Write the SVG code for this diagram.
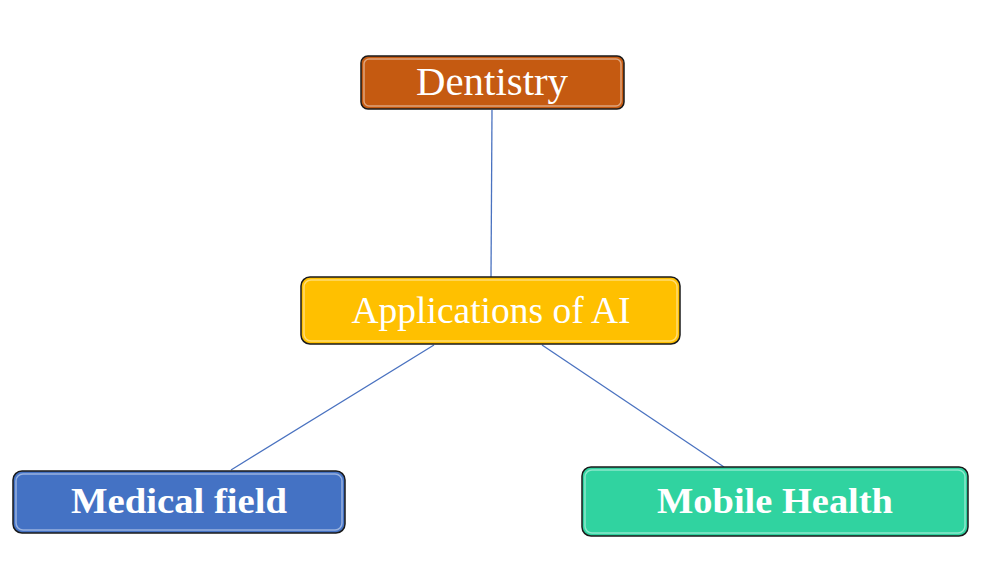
<svg xmlns="http://www.w3.org/2000/svg" width="986" height="568" viewBox="0 0 986 568">
<style>
.box{stroke:#1a1a1a;stroke-width:1.5}
.hl{fill:none;stroke:#ffffff;stroke-opacity:0.45;stroke-width:1.5}
.t{font-family:"Liberation Serif","Times New Roman",serif;fill:#ffffff;text-anchor:middle}
.b{font-weight:bold}
.conn{stroke:#4a72c0;stroke-width:1.3;fill:none}
</style>
<rect width="986" height="568" fill="#ffffff"/>
<g id="connectors">
<line class="conn" x1="492" y1="110" x2="491" y2="277"/>
<line class="conn" x1="434" y1="345" x2="231" y2="470"/>
<line class="conn" x1="542" y1="345" x2="724" y2="467"/>
</g>
<g id="dentistry">
<rect class="box" x="361" y="56" width="263" height="53" rx="7" fill="#c55a11"/>
<rect class="hl" x="364" y="59" width="257" height="47" rx="5"/>
<text class="t" x="492" y="95" font-size="40" textLength="152" lengthAdjust="spacingAndGlyphs">Dentistry</text>
</g>
<g id="applications">
<rect class="box" x="301" y="277" width="379" height="67" rx="9" fill="#ffc000"/>
<rect class="hl" x="304" y="280" width="373" height="61" rx="7"/>
<text class="t" x="491" y="323" font-size="38" textLength="279" lengthAdjust="spacingAndGlyphs">Applications of AI</text>
</g>
<g id="medical">
<rect class="box" x="13" y="471" width="332" height="62" rx="9" fill="#4472c4"/>
<rect class="hl" x="16" y="474" width="326" height="56" rx="7"/>
<text class="t b" x="179" y="513" font-size="36" textLength="216" lengthAdjust="spacingAndGlyphs">Medical field</text>
</g>
<g id="mobile">
<rect class="box" x="582" y="467" width="386" height="69" rx="9" fill="#30d3a0"/>
<rect class="hl" x="585" y="470" width="380" height="63" rx="7"/>
<text class="t b" x="775" y="513" font-size="36" textLength="236" lengthAdjust="spacingAndGlyphs">Mobile Health</text>
</g>
</svg>
